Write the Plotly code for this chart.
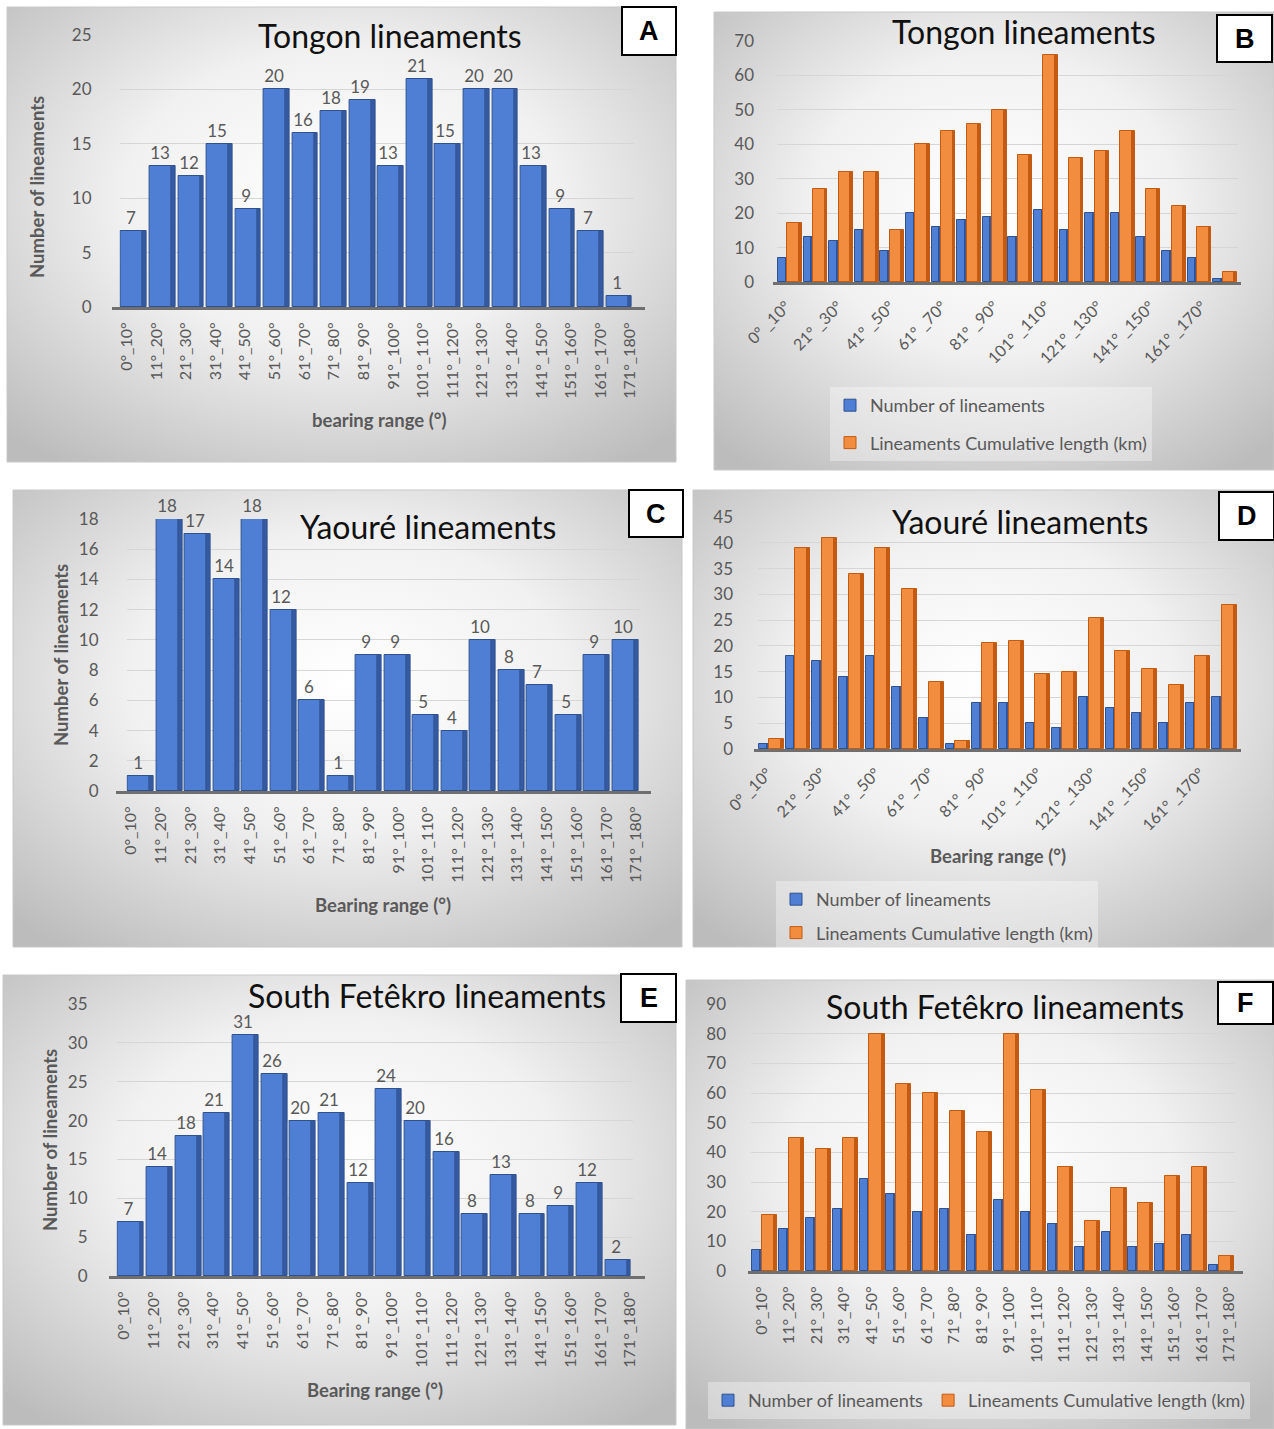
import base64
import plotly.graph_objects as go

# Bearing classes (degrees) shared by every panel
bearing_ranges = ["0°_10°", "11°_20°", "21°_30°", "31°_40°", "41°_50°", "51°_60°",
                  "61°_70°", "71°_80°", "81°_90°", "91°_100°", "101°_110°", "111°_120°",
                  "121°_130°", "131°_140°", "141°_150°", "151°_160°", "161°_170°", "171°_180°"]
bearing_ranges_spaced = ["0° _10°", "11° _20°", "21° _30°", "31° _40°", "41° _50°", "51° _60°",
                         "61° _70°", "71° _80°", "81° _90°", "91° _100°", "101° _110°", "111° _120°",
                         "121° _130°", "131° _140°", "141° _150°", "151° _160°", "161° _170°", "171° _180°"]

# Tongon
tongon_count = [7, 13, 12, 15, 9, 20, 16, 18, 19, 13, 21, 15, 20, 20, 13, 9, 7, 1]
tongon_length_km = [17, 27, 32, 32, 15, 40, 44, 46, 50, 37, 66, 36, 38, 44, 27, 22, 16, 3]

# Yaouré
yaoure_count = [1, 18, 17, 14, 18, 12, 6, 1, 9, 9, 5, 4, 10, 8, 7, 5, 9, 10]
yaoure_length_km = [2, 39, 41, 34, 39, 31, 13, 1.5, 20.5, 21, 14.5, 15, 25.5, 19, 15.5, 12.5, 18, 28]

# South Fetêkro
fetekro_count = [7, 14, 18, 21, 31, 26, 20, 21, 12, 24, 20, 16, 8, 13, 8, 9, 12, 2]
fetekro_length_km = [19, 45, 41, 45, 80, 63, 60, 54, 47, 80, 61, 35, 17, 28, 23, 32, 35, 5]

W, H = 1274, 1429
FONT = "Lato"
GRAY = "#595959"

BLUE_FRONT, BLUE_SIDE, BLUE_EDGE = "#4f7fd4", "#3559a3", "#2f528f"
ORANGE_FRONT, ORANGE_SIDE, ORANGE_EDGE = "#f28c3f", "#c25a12", "#c55a11"


def px(x):
    return x / W


def py(y):
    return 1 - y / H


fig = go.Figure()
xs = list(range(len(bearing_ranges)))


def add_column(values, n, front, side, edge, start, wf, ws, name=None, legend=None, labels=False):
    xa = "x" if n == 1 else f"x{n}"
    ya = "y" if n == 1 else f"y{n}"
    kw = {}
    if labels:
        kw = dict(text=[str(v) for v in values], textposition="outside",
                  textfont=dict(family=FONT, size=17, color=GRAY),
                  constraintext="none", cliponaxis=False)
    fig.add_trace(go.Bar(
        x=xs, y=values, xaxis=xa, yaxis=ya, width=wf, offset=start,
        marker=dict(color=front, line=dict(color=edge, width=1)),
        name=name, showlegend=name is not None, legend=legend,
        legendgroup=name, hoverinfo="y", **kw))
    fig.add_trace(go.Bar(
        x=xs, y=values, xaxis=xa, yaxis=ya, width=ws, offset=start + wf,
        marker=dict(color=side, line=dict(color=edge, width=1)),
        showlegend=False, hoverinfo="skip"))


# single-series panels: A, C, E
for n, vals in [(1, tongon_count), (3, yaoure_count), (5, fetekro_count)]:
    add_column(vals, n, BLUE_FRONT, BLUE_SIDE, BLUE_EDGE, -0.45, 0.77, 0.13, labels=True)

# two-series panels: B, D, F
for n, cnt, length, leg in [(2, tongon_count, tongon_length_km, "legend"),
                            (4, yaoure_count, yaoure_length_km, "legend2"),
                            (6, fetekro_count, fetekro_length_km, "legend3")]:
    add_column(cnt, n, BLUE_FRONT, BLUE_SIDE, BLUE_EDGE, -0.465, 0.30, 0.07,
               name="Number of lineaments", legend=leg)
    add_column(length, n, ORANGE_FRONT, ORANGE_SIDE, ORANGE_EDGE, -0.095, 0.45, 0.11,
               name="Lineaments Cumulative length (km)", legend=leg)

# panel geometry in pixels:
#   bars  - horizontal extent of the column area
#   ticks - horizontal extent of the category (floor) axis
panels = {
    1: dict(bars=(119.6, 633.5), ticks=(112, 645), y0=307, y1=35, ymax=25, dtick=5,
            angle=-90, every=1, labels=bearing_ranges, standoff=27),
    2: dict(bars=(777, 1238), ticks=(773, 1241), y0=282, y1=41, ymax=70, dtick=10,
            angle=-45, every=2, labels=bearing_ranges_spaced, standoff=22),
    3: dict(bars=(126.6, 639.6), ticks=(116, 651), y0=791, y1=519, ymax=18, dtick=2,
            angle=-90, every=1, labels=bearing_ranges, standoff=27),
    4: dict(bars=(758, 1238), ticks=(754, 1241), y0=749, y1=517, ymax=45, dtick=5,
            angle=-45, every=2, labels=bearing_ranges_spaced, standoff=24),
    5: dict(bars=(116.6, 632.5), ticks=(109, 645), y0=1276, y1=1004, ymax=35, dtick=5,
            angle=-90, every=1, labels=bearing_ranges, standoff=28),
    6: dict(bars=(751, 1235), ticks=(748, 1243), y0=1271, y1=1004, ymax=90, dtick=10,
            angle=-90, every=1, labels=bearing_ranges, standoff=24),
}

layout_axes = {}
for n, p in panels.items():
    sx = "" if n == 1 else str(n)
    fx = str(n + 6)
    ydom = [py(p["y0"]), py(p["y1"])]
    # column area with value axis and gridlines
    layout_axes[f"xaxis{sx}"] = dict(
        domain=[px(p["bars"][0]), px(p["bars"][1])], anchor=f"y{sx}", range=[-0.5, 17.5],
        showticklabels=False, showline=False, showgrid=False, zeroline=False, ticks="",
        fixedrange=True, automargin=False)
    layout_axes[f"yaxis{sx}"] = dict(
        domain=ydom, anchor=f"x{sx}", range=[0, p["ymax"]],
        dtick=p["dtick"], tickfont=dict(family=FONT, size=17, color=GRAY),
        showgrid=True, gridcolor="#d6d6d6", gridwidth=1, zeroline=False,
        showline=False, ticks="", ticklabelstandoff=p["standoff"], fixedrange=True,
        automargin=False)
    # floor line with the bearing class labels
    layout_axes[f"xaxis{fx}"] = dict(
        domain=[px(p["ticks"][0]), px(p["ticks"][1])], anchor=f"y{fx}", range=[-0.5, 17.5],
        tickvals=xs[::p["every"]], ticktext=p["labels"][::p["every"]], tickangle=p["angle"],
        tickfont=dict(family=FONT, size=16, color=GRAY),
        showline=True, linecolor="#6f6f6f", linewidth=3, showgrid=False,
        zeroline=False, ticks="", ticklabelstandoff=6, fixedrange=True, automargin=False)
    layout_axes[f"yaxis{fx}"] = dict(
        domain=ydom, anchor=f"x{fx}", range=[0, p["ymax"]], visible=False,
        showgrid=False, fixedrange=True, automargin=False)
    fig.add_trace(go.Scatter(x=[0], y=[0], xaxis=f"x{fx}", yaxis=f"y{fx}", mode="markers",
                             marker=dict(opacity=0, size=1), hoverinfo="skip", showlegend=False))

# panel frames with a soft radial shading
svg = ("<svg xmlns='http://www.w3.org/2000/svg' width='100' height='100' viewBox='0 0 100 100' "
       "preserveAspectRatio='none'><defs><radialGradient id='g' cx='50%' cy='42%' r='72%'>"
       "<stop offset='0' stop-color='#ffffff'/><stop offset='0.45' stop-color='#f1f1f1'/>"
       "<stop offset='1' stop-color='#bcbcbc'/></radialGradient></defs>"
       "<rect width='100' height='100' fill='url(#g)'/></svg>")
svg_src = "data:image/svg+xml;base64," + base64.b64encode(svg.encode()).decode()

frames = {
    "A": (7, 7, 676, 462), "B": (714, 12, 1274, 470),
    "C": (13, 490, 682, 947), "D": (693, 490, 1274, 947),
    "E": (3, 975, 676, 1425), "F": (686, 980, 1274, 1429),
}
letter_boxes = {
    "A": (622, 7, 676, 55), "B": (1217, 15, 1272, 62),
    "C": (629, 490, 683, 537), "D": (1219, 492, 1274, 540),
    "E": (621, 974, 676, 1022), "F": (1218, 982, 1273, 1024),
}

images, shapes, annotations = [], [], []
for key, (x0, y0, x1, y1) in frames.items():
    images.append(dict(source=svg_src, xref="paper", yref="paper", x=px(x0), y=py(y0),
                       sizex=px(x1) - px(x0), sizey=py(y0) - py(y1), sizing="stretch",
                       xanchor="left", yanchor="top", layer="below"))
    shapes.append(dict(type="rect", xref="paper", yref="paper", x0=px(x0), x1=px(x1),
                       y0=py(y1), y1=py(y0), line=dict(color="#c8c8c8", width=1),
                       fillcolor="rgba(0,0,0,0)", layer="below"))

for key, (x0, y0, x1, y1) in letter_boxes.items():
    shapes.append(dict(type="rect", xref="paper", yref="paper", x0=px(x0), x1=px(x1),
                       y0=py(y1), y1=py(y0), line=dict(color="#000000", width=2),
                       fillcolor="#ffffff", layer="above"))
    annotations.append(dict(text=f"<b>{key}</b>", xref="paper", yref="paper",
                            x=px((x0 + x1) / 2), y=py((y0 + y1) / 2), showarrow=False,
                            font=dict(family="Liberation Sans", size=27, color="#000000"),
                            xanchor="center", yanchor="middle"))

titles = [
    ("Tongon lineaments", 390, 36), ("Tongon lineaments", 1024, 32),
    ("Yaouré lineaments", 428, 527), ("Yaouré lineaments", 1020, 521),
    ("South Fetêkro lineaments", 427, 995), ("South Fetêkro lineaments", 1005, 1006),
]
for text, x, y in titles:
    annotations.append(dict(text=text, xref="paper", yref="paper", x=px(x), y=py(y),
                            showarrow=False, xanchor="center", yanchor="middle",
                            font=dict(family=FONT, size=32, color="#111111")))

axis_titles = [
    ("<b>Number of lineaments</b>", 37, 187, -90),
    ("<b>bearing range (°)</b>", 379, 420, 0),
    ("<b>Number of lineaments</b>", 61, 655, -90),
    ("<b>Bearing range (°)</b>", 383, 905, 0),
    ("<b>Bearing range (°)</b>", 998, 856, 0),
    ("<b>Number of lineaments</b>", 50, 1140, -90),
    ("<b>Bearing range (°)</b>", 375, 1390, 0),
]
for text, x, y, ang in axis_titles:
    annotations.append(dict(text=text, xref="paper", yref="paper", x=px(x), y=py(y),
                            showarrow=False, xanchor="center", yanchor="middle", textangle=ang,
                            font=dict(family=FONT, size=18.5, color=GRAY)))

legend_font = dict(family=FONT, size=18, color=GRAY)
fig.update_layout(
    width=W, height=H, margin=dict(l=0, r=0, t=0, b=0, autoexpand=False),
    paper_bgcolor="#ffffff", plot_bgcolor="rgba(0,0,0,0)",
    barmode="overlay", bargap=0, font=dict(family=FONT, color=GRAY),
    images=images, shapes=shapes, annotations=annotations,
    legend=dict(x=px(830), y=py(387), xanchor="left", yanchor="top", orientation="v",
                bgcolor="rgba(255,255,255,0.35)", font=legend_font, tracegroupgap=11,
                itemclick=False, itemdoubleclick=False),
    legend2=dict(x=px(776), y=py(881), xanchor="left", yanchor="top", orientation="v",
                 bgcolor="rgba(255,255,255,0.35)", font=legend_font, tracegroupgap=7,
                 itemclick=False, itemdoubleclick=False),
    legend3=dict(x=px(708), y=py(1382), xanchor="left", yanchor="top", orientation="h",
                 bgcolor="rgba(255,255,255,0.35)", font=legend_font,
                 itemclick=False, itemdoubleclick=False),
    **layout_axes,
)

fig.write_html("out.html")
